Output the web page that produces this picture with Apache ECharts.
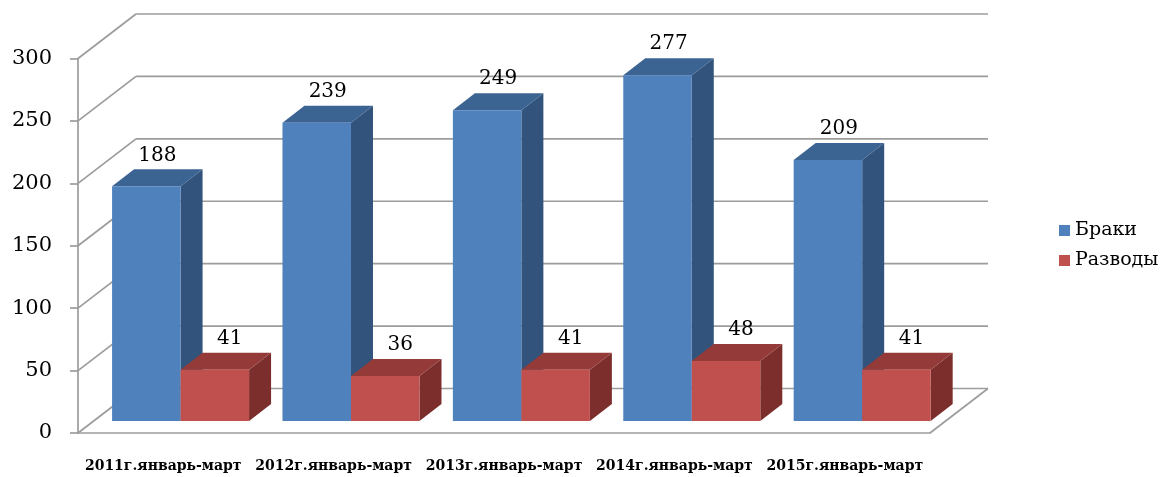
<!DOCTYPE html>
<html>
<head>
<meta charset="utf-8">
<script src="https://cdn.jsdelivr.net/npm/echarts@6/dist/echarts.min.js"></script>
<style>html,body{margin:0;padding:0;background:#fff;}#c{width:1160px;height:477px;}</style>
</head>
<body>
<div id="c"></div>
<script>
const categories = ['2011г.январь-март', '2012г.январь-март', '2013г.январь-март', '2014г.январь-март', '2015г.январь-март'];
const marriages = [188, 239, 249, 277, 209];
const divorces = [41, 36, 41, 48, 41];
const yTicks = [0, 50, 100, 150, 200, 250, 300];
const seriesNames = ['Браки', 'Разводы'];

const FONT = '"DejaVu Serif", "Liberation Serif", serif';
const WALL_DX = 58, WALL_DY = 44.5;   // back wall offset
const BAR_DX = 22, BAR_DY = 17;       // bar depth
const BAR_SHIFT_Y = 12;               // bars placed slightly back
const palette = [
  { front: '#4f81bd', top: '#3c6493', side: '#32537b' },
  { front: '#c0504d', top: '#943b39', side: '#7b2e2c' }
];

function wallItem(params, api) {
  const cs = params.coordSys;
  const v = api.value(1);
  const y = api.coord([0, v])[1];
  const st = { stroke: '#9c9c9c', lineWidth: 1.7, fill: null };
  const children = [
    { type: 'line', shape: { x1: cs.x, y1: y, x2: cs.x + WALL_DX, y2: y - WALL_DY }, style: st },
    { type: 'line', shape: { x1: cs.x + WALL_DX, y1: y - WALL_DY, x2: cs.x + cs.width + WALL_DX, y2: y - WALL_DY }, style: st }
  ];
  if (v === 0) {
    children.push({ type: 'line', shape: { x1: cs.x + cs.width, y1: y, x2: cs.x + cs.width + WALL_DX, y2: y - WALL_DY }, style: st });
  }
  return { type: 'group', children };
}

function barItemFactory(sIdx) {
  return function (params, api) {
    const idx = api.value(0), v = api.value(1);
    const base = api.coord([idx, 0]);
    const top = api.coord([idx, v]);
    const bw = api.size([1, 0])[0];
    const barW = bw * 0.402;
    const x0 = base[0] - bw / 2 + bw * 0.2 + sIdx * barW;
    const yb = base[1] - BAR_SHIFT_Y;
    const yt = top[1] - BAR_SHIFT_Y;
    const c = palette[sIdx];
    return {
      type: 'group',
      children: [
        { type: 'polygon', shape: { points: [[x0 + barW, yt], [x0 + barW + BAR_DX, yt - BAR_DY], [x0 + barW + BAR_DX, yb - BAR_DY], [x0 + barW, yb]] }, style: { fill: c.side } },
        { type: 'polygon', shape: { points: [[x0, yt], [x0 + barW, yt], [x0 + barW + BAR_DX, yt - BAR_DY], [x0 + BAR_DX, yt - BAR_DY]] }, style: { fill: c.top } },
        { type: 'rect', shape: { x: x0, y: yt, width: barW, height: yb - yt }, style: { fill: c.front } },
        { type: 'text', style: { x: x0 + barW / 2 + BAR_DX / 2 + sIdx * 4, y: yt - 31, text: String(v), align: 'center', verticalAlign: 'middle', font: '20px ' + FONT, fill: '#000' } }
      ]
    };
  };
}

const chart = echarts.init(document.getElementById('c'), null, { renderer: 'canvas' });
chart.setOption({
  backgroundColor: '#fff',
  animation: false,
  grid: { left: 78, right: 230, top: 58.5, bottom: 44 },
  legend: {
    data: seriesNames,
    orient: 'vertical',
    left: 1054,
    top: 216,
    itemWidth: 11,
    itemHeight: 11,
    itemGap: 11,
    icon: 'rect',
    textStyle: { fontFamily: FONT, fontSize: 19, color: '#000' }
  },
  xAxis: {
    type: 'category',
    data: categories,
    axisLine: { lineStyle: { color: '#9c9c9c', width: 1.7 } },
    axisTick: { length: 7, lineStyle: { color: '#9c9c9c', width: 1.7 } },
    axisLabel: { interval: 0, margin: 26, fontFamily: FONT, fontWeight: 'bold', fontSize: 14, color: '#000' },
    splitLine: { show: false }
  },
  yAxis: {
    type: 'value',
    min: 0, max: 300, interval: 50,
    axisLine: { show: true, lineStyle: { color: '#9c9c9c', width: 1.7 } },
    axisTick: { show: true, length: 8, lineStyle: { color: '#9c9c9c', width: 1.7 } },
    axisLabel: { margin: 26, fontFamily: FONT, fontSize: 21, color: '#000' },
    splitLine: { show: false }
  },
  series: [
    { type: 'custom', name: 'walls', renderItem: wallItem, data: yTicks.map(v => [0, v]), z: 1, silent: true },
    { type: 'custom', name: seriesNames[0], renderItem: barItemFactory(0), data: marriages.map((v, i) => [i, v]), itemStyle: { color: palette[0].front }, z: 2 },
    { type: 'custom', name: seriesNames[1], renderItem: barItemFactory(1), data: divorces.map((v, i) => [i, v]), itemStyle: { color: palette[1].front }, z: 3 }
  ]
});
</script>
</body>
</html>
